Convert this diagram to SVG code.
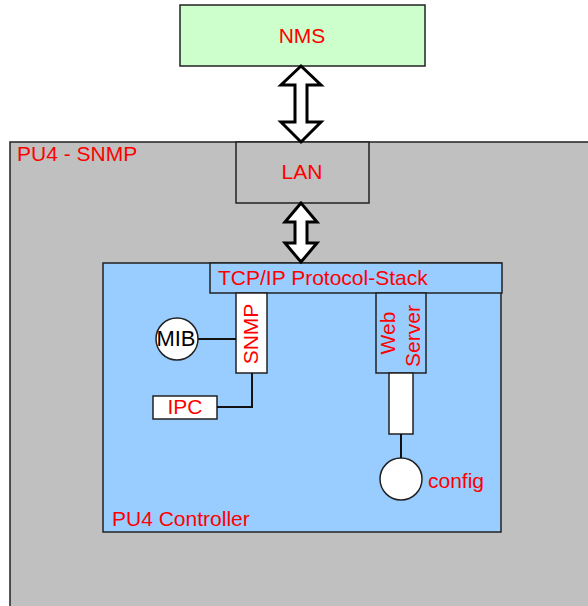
<svg xmlns="http://www.w3.org/2000/svg" width="588" height="606" viewBox="0 0 588 606">
<style>
.box{stroke:#222;stroke-width:1.5}
.t{font-family:"Liberation Sans",Arial,sans-serif;font-size:21px;fill:#ff0000}
.k{font-family:"Liberation Sans",Arial,sans-serif;font-size:22px;fill:#000}
.ln{stroke:#111;stroke-width:2;fill:none}
.arr{fill:#fff;stroke:#000;stroke-width:3;stroke-linejoin:miter}
</style>
<rect width="588" height="606" fill="#fff"/>
<g id="pu4-snmp">
<rect class="box" x="10" y="142" width="600" height="500" fill="#c0c0c0"/>
<text class="t" x="17" y="161">PU4 - SNMP</text>
</g>
<g id="nms">
<rect class="box" x="180" y="5" width="245" height="61" fill="#ccffcc"/>
<text class="t" x="302" y="43" text-anchor="middle">NMS</text>
</g>
<g id="lan">
<rect class="box" x="236" y="142" width="133" height="61" fill="#c0c0c0"/>
<text class="t" x="302" y="179" text-anchor="middle">LAN</text>
</g>
<g id="pu4-controller">
<rect class="box" x="103" y="263" width="398" height="269" fill="#99ccff"/>
<text class="t" x="112" y="526">PU4 Controller</text>
</g>
<g id="tcpip">
<rect class="box" x="210" y="263" width="292" height="30" fill="#99ccff"/>
<text class="t" x="218" y="285">TCP/IP Protocol-Stack</text>
</g>
<g id="snmp">
<rect class="box" x="236" y="293" width="31" height="80" fill="#fff"/>
<text class="t" transform="translate(258,334) rotate(-90)" text-anchor="middle">SNMP</text>
</g>
<g id="webserver">
<rect class="box" x="376" y="293" width="50" height="80" fill="#99ccff"/>
<text class="t" transform="translate(395,333) rotate(-90)" text-anchor="middle">Web</text>
<text class="t" transform="translate(420,336) rotate(-90)" text-anchor="middle">Server</text>
</g>
<g id="ws-block">
<rect class="box" x="389" y="373" width="24" height="61" fill="#fff"/>
</g>
<g id="mib">
<circle class="box" cx="177" cy="339" r="21" fill="#fff"/>
<text class="k" x="176" y="346" text-anchor="middle" textLength="39" lengthAdjust="spacingAndGlyphs">MIB</text>
</g>
<g id="ipc">
<rect class="box" x="153" y="396" width="64" height="23" fill="#fff"/>
<text class="t" x="185" y="414" text-anchor="middle">IPC</text>
</g>
<g id="config">
<circle class="box" cx="401" cy="479" r="21" fill="#fff"/>
<text class="t" x="428" y="488">config</text>
</g>
<g id="connectors">
<polygon class="arr" points="301,66 281,85 295,85 295,122 281,122 301,142 321,122 307,122 307,85 321,85"/>
<polygon class="arr" points="301,203 285,222 295,222 295,243 285,243 301,262 317,243 307,243 307,222 317,222"/>
<line class="ln" x1="198" y1="339" x2="236" y2="339"/>
<polyline class="ln" points="217,407 252,407 252,373"/>
<line class="ln" x1="401" y1="434" x2="401" y2="458"/>
</g>
</svg>
